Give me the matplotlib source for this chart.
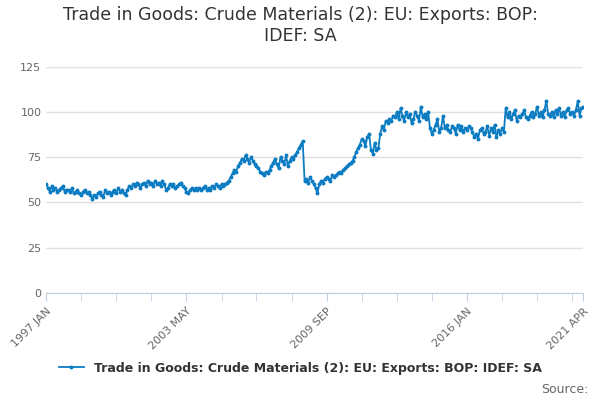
import matplotlib.pyplot as plt
import pandas as pd

dates = pd.date_range("1997-01-01", "2021-04-01", freq="MS")
values = [
    60, 58, 56, 59, 57, 58, 56, 57, 58, 59, 56, 57,
    57, 56, 58, 55, 56, 57, 55, 54, 56, 57, 55, 56,
    54, 52, 54, 53, 55, 56, 54, 53, 57, 55, 56, 54,
    56, 57, 55, 58, 56, 57, 55, 54, 57, 59, 58, 60,
    59, 61, 60, 58, 60, 61, 59, 62, 60, 61, 59, 62,
    60, 61, 59, 62, 60, 57, 58, 60, 59, 60, 58, 59,
    60, 61, 59, 58, 56, 55, 57, 58, 57, 58, 57, 58,
    57, 58, 59, 57, 58, 57, 59, 58, 60, 59, 58, 60,
    59, 60, 61, 62, 64, 66, 68, 67, 70, 72, 74, 73,
    76, 74, 72, 75, 73, 71, 70, 69, 67, 66, 65, 67,
    66, 68, 70, 72, 74, 71, 69, 75, 73, 71, 76, 70,
    73, 75, 74, 76, 78, 80, 82, 84, 62, 63, 61, 64,
    62, 60, 58, 55, 60, 62, 61, 63, 64, 63, 62, 65,
    64, 65, 66, 67, 66, 68, 69, 70, 71, 72, 73, 75,
    78, 80, 82, 85, 84, 81, 86, 88, 79, 77, 83, 79,
    80, 88, 92, 90, 95, 94, 96, 95, 98, 97, 100, 96,
    102, 98, 95, 100, 97, 99, 94, 96, 100, 98, 95, 103,
    97, 99, 96, 100, 91, 88, 90, 93, 96, 89, 91, 98,
    91, 93, 90, 89, 92, 91, 88, 93, 90, 92, 89, 91,
    90, 92, 91, 89, 86, 88, 85, 90, 91, 88, 89, 92,
    87, 91, 89, 93, 86, 90, 88, 91, 89, 102, 97, 100,
    96, 99, 101, 95, 98, 97, 99, 101, 97, 96, 98, 100,
    97, 99, 103, 98, 100, 97, 101, 106, 99, 98, 100, 97,
    101, 99, 102, 98, 100, 97, 101, 102, 99, 100, 98, 101,
    106, 98, 102, 103,
]
label_dates = ["1997-01-01", "2003-05-01", "2009-09-01", "2016-01-01", "2021-04-01"]
tick_labels = ["1997 JAN", "2003 MAY", "2009 SEP", "2016 JAN", "2021 APR"]
series_name = "Trade in Goods: Crude Materials (2): EU: Exports: BOP: IDEF: SA"

fig = plt.figure(figsize=(6, 4), dpi=100, facecolor='white')
ax = fig.add_axes([0.077, 0.268, 0.895, 0.565])
line_color = '#0b7cc2'
ax.plot(dates, values, color=line_color, linewidth=1.3, marker='o', markersize=1.8,
        label=series_name)

ax.set_ylim(0, 125)
ax.set_yticks(range(0, 126, 25))
ax.set_xlim(dates[0], dates[-1])
ax.grid(axis='y', color='#e0e0e0', linewidth=1)
ax.set_axisbelow(True)
for s in ['top', 'right', 'left']:
    ax.spines[s].set_visible(False)
ax.spines['bottom'].set_color('#c0d0e0')
ax.tick_params(axis='y', length=0, labelsize=8, colors='#666666')

# minor ticks every 19 months, labels on major ones
minor = pd.date_range("1997-01-01", "2021-04-01", freq="19MS")
ax.set_xticks(minor, minor=True)
ax.set_xticks(pd.to_datetime(label_dates))
ax.set_xticklabels(tick_labels, rotation=45, ha='right', rotation_mode='anchor')
ax.tick_params(axis='x', which='both', length=6, color='#c0d0e0', labelsize=8,
               labelcolor='#666666')

fig.text(0.5, 0.985, "Trade in Goods: Crude Materials (2): EU: Exports: BOP:\nIDEF: SA",
         ha='center', va='top', fontsize=12.5, color='#333333')
fig.legend(loc='lower center', bbox_to_anchor=(0.5, 0.035), frameon=False,
           prop={'size': 9, 'weight': 'bold'}, labelcolor='#333333', handlelength=2)
fig.text(0.98, 0.01, "Source:", ha='right', va='bottom', fontsize=9, color='#666666')

fig.savefig("out.png", dpi=100, facecolor='white')
